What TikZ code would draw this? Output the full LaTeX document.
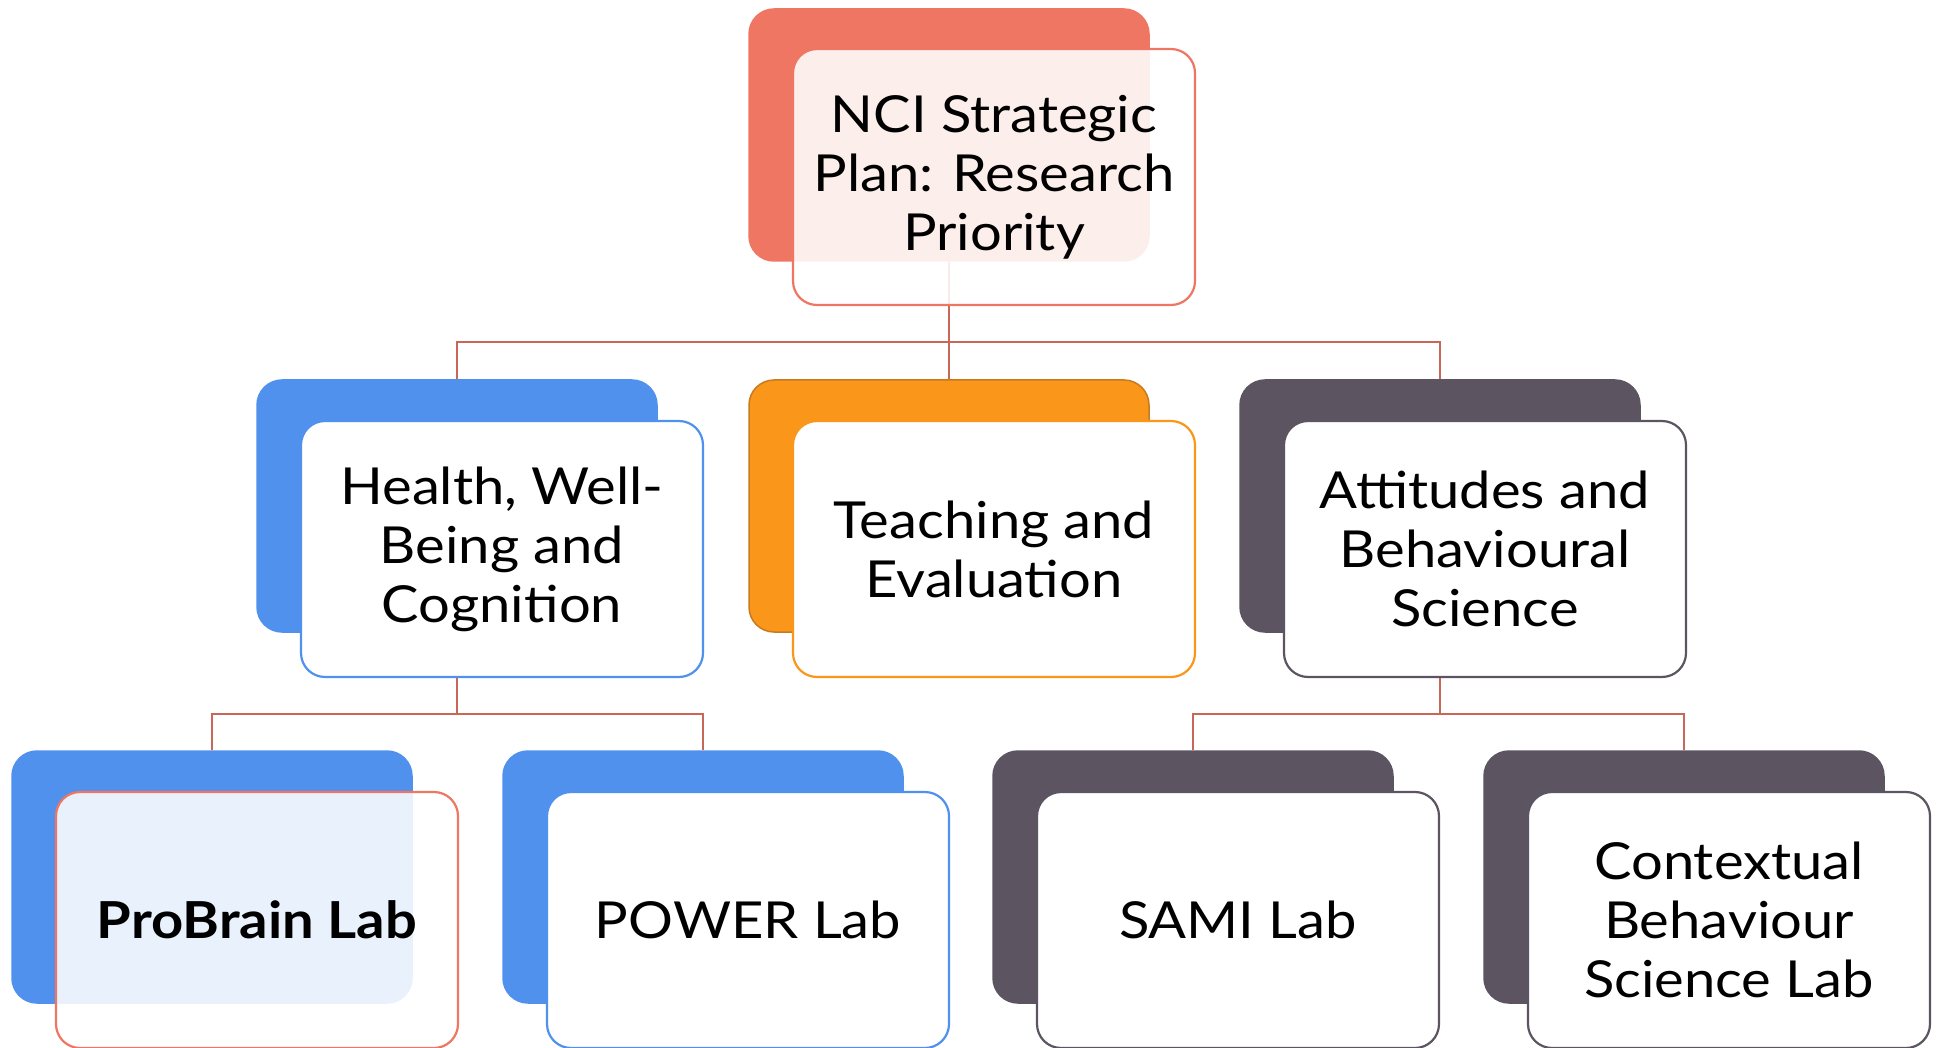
\documentclass[tikz,border=0pt]{standalone}
\usepackage{fontspec}
\setmainfont{Lato}[FakeStretch=1.1]
\usetikzlibrary{calc,backgrounds}

\definecolor{cSalmon}{RGB}{238,118,98}
\definecolor{cBlue}{RGB}{80,145,238}
\definecolor{cOrange}{RGB}{250,150,25}
\definecolor{cOrangeEdge}{RGB}{200,122,30}
\definecolor{cSlate}{RGB}{92,85,97}
\definecolor{cLink}{RGB}{200,102,88}

\tikzset{
  backbox/.style={rectangle, rounded corners=25pt, minimum width=400pt,
    minimum height=252pt, inner sep=0pt, line width=1.5pt},
  frontbox/.style={rectangle, rounded corners=24pt, minimum width=402pt,
    minimum height=256pt, inner sep=0pt, line width=2.2pt, fill=white,
    align=center, text=black, font=\fontsize{51}{59}\selectfont},
  glassy/.style={fill opacity=0.88, text opacity=1},
  link/.style={draw=cLink, line width=2.6pt},
}

\begin{document}
\begin{tikzpicture}[x=1pt,y=-1pt]
\useasboundingbox (0,0) rectangle (1936,1048);

% ---- top level
\node[backbox, fill=cSalmon, draw=cSalmon] (nciB) at (949,135) {};
\node[frontbox, glassy, draw=cSalmon] (nci) at ([shift={(45,42)}]nciB.center)
  {NCI Strategic\\Plan: Research\\Priority};

% ---- themes
\node[backbox, fill=cBlue, draw=cBlue] (healthB) at (457,506) {};
\node[frontbox, draw=cBlue] (health) at ([shift={(45,43)}]healthB.center)
  {Health, Well-\\Being and\\Cognition};

\node[backbox, fill=cOrange, draw=cOrangeEdge] (teachB) at (949,506) {};
\node[frontbox, draw=cOrange] (teach) at ([shift={(45,43)}]teachB.center)
  {Teaching and\\Evaluation};

\node[backbox, fill=cSlate, draw=cSlate] (attB) at (1440,506) {};
\node[frontbox, draw=cSlate] (att) at ([shift={(45,43)}]attB.center)
  {Attitudes and\\Behavioural\\Science};

% ---- labs
\node[backbox, fill=cBlue, draw=cBlue] (probrainB) at (212,877) {};
\node[frontbox, glassy, draw=cSalmon] (probrain) at ([shift={(45,43)}]probrainB.center)
  {\bfseries ProBrain Lab};

\node[backbox, fill=cBlue, draw=cBlue] (powerB) at (703,877) {};
\node[frontbox, draw=cBlue] (power) at ([shift={(45,43)}]powerB.center)
  {POWER Lab};

\node[backbox, fill=cSlate, draw=cSlate] (samiB) at (1193,877) {};
\node[frontbox, draw=cSlate] (sami) at ([shift={(45,43)}]samiB.center)
  {SAMI Lab};

\node[backbox, fill=cSlate, draw=cSlate] (ctxB) at (1684,877) {};
\node[frontbox, draw=cSlate] (ctx) at ([shift={(45,43)}]ctxB.center)
  {Contextual\\Behaviour\\Science Lab};

% ---- tree connectors, behind the cards
\coordinate (busTop) at (949,342);
\coordinate (busLeft) at (457,714);
\coordinate (busRight) at (1440,714);
\begin{pgfonlayer}{background}
  \draw[link] (nciB.south) -- (busTop);
  \draw[link] (busTop) -| (healthB.north);
  \draw[link] (busTop) -- (teachB.north);
  \draw[link] (busTop) -| (attB.north);
  \draw[link] (healthB.south) -- (busLeft);
  \draw[link] (busLeft) -| (probrainB.north);
  \draw[link] (busLeft) -| (powerB.north);
  \draw[link] (attB.south) -- (busRight);
  \draw[link] (busRight) -| (samiB.north);
  \draw[link] (busRight) -| (ctxB.north);
\end{pgfonlayer}
\end{tikzpicture}
\end{document}
